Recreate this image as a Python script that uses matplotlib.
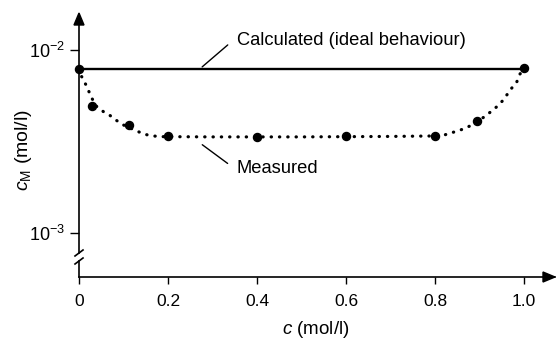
import matplotlib
matplotlib.use("Agg")
import matplotlib.pyplot as plt
from matplotlib.patches import Polygon

plt.rcParams['font.family'] = ['Liberation Sans', 'DejaVu Sans']
plt.rcParams['mathtext.fontset'] = 'custom'
plt.rcParams['mathtext.rm'] = 'Liberation Sans'
plt.rcParams['mathtext.it'] = 'Liberation Sans:italic'
plt.rcParams['mathtext.default'] = 'rm'

# Data
calc_x = [0.0, 1.0]
calc_y = [7.9e-3, 7.9e-3]

meas_x = [0.0, 0.03, 0.112, 0.2, 0.4, 0.6, 0.8, 0.895, 1.0]
meas_y = [7.9e-3, 4.97e-3, 3.87e-3, 3.37e-3, 3.35e-3, 3.37e-3, 3.39e-3, 4.07e-3, 7.95e-3]

curve_x = [0.0, 0.006, 0.015, 0.0225, 0.030, 0.040, 0.055, 0.070, 0.085, 0.100,
           0.133, 0.148, 0.163, 0.182, 0.2, 0.3, 0.4, 0.5, 0.6, 0.7, 0.8,
           0.819, 0.834, 0.849, 0.865, 0.881, 0.895, 0.912, 0.924, 0.939,
           0.952, 0.963, 0.972, 0.984, 0.991, 1.0]
curve_y = [7.9e-3, 7.15e-3, 6.49e-3, 5.91e-3, 5.39e-3, 4.90e-3, 4.60e-3, 4.38e-3, 4.11e-3, 3.89e-3,
           3.58e-3, 3.46e-3, 3.40e-3, 3.36e-3, 3.36e-3, 3.35e-3, 3.35e-3, 3.35e-3, 3.36e-3, 3.37e-3, 3.39e-3,
           3.42e-3, 3.51e-3, 3.60e-3, 3.71e-3, 3.87e-3, 4.07e-3, 4.33e-3, 4.57e-3, 4.90e-3,
           5.28e-3, 5.75e-3, 6.17e-3, 6.71e-3, 7.39e-3, 7.95e-3]

xticks = [0, 0.2, 0.4, 0.6, 0.8, 1.0]
xticklabels = ['0', '0.2', '0.4', '0.6', '0.8', '1.0']
yticks = [1e-2, 1e-3]
yticklabels = [r'$10^{-2}$', r'$10^{-3}$']

W, H = 557, 341
fig = plt.figure(figsize=(W / 100, H / 100), dpi=100)
L, R, B, T = 79, 555, 277, 13
ax = fig.add_axes([L / W, (H - B) / H, (R - L) / W, (B - T) / H])

ax.set_yscale('log')
ax.set_xlim(0, (R - L) / 445)
ax.set_ylim(10 ** (-3.2404), 10 ** (-1.798))

ax.plot(curve_x, curve_y, color='black', lw=2.3, linestyle=(0, (0.1, 2.5)),
        dash_capstyle='round', clip_on=False, zorder=2)
ax.plot(calc_x, calc_y, color='black', lw=1.7, solid_capstyle='butt', zorder=3, clip_on=False)
ax.plot(meas_x, meas_y, 'o', color='black', ms=5.8, zorder=4, clip_on=False)

# Spines
for s in ['top', 'right', 'left']:
    ax.spines[s].set_visible(False)
ax.spines['bottom'].set_linewidth(1.2)

# Manual y axis with break
kw = dict(transform=ax.transAxes, color='black', lw=1.2, clip_on=False)
yb1 = (B - 261) / (B - T)
yb2 = (B - 253) / (B - T)
ax.plot([0, 0], [0, yb1], **kw)
ax.plot([0, 0], [yb2, 0.97], **kw)
dx = 4 / (R - L)
dy = 3 / (B - T)
for yb in (yb1, yb2):
    ax.plot([-dx, dx], [yb - dy, yb + dy], **kw)

# Arrow heads
ah = 12
aw = 5
ax.add_patch(Polygon([[0, 1], [-aw / (R - L), 1 - ah / (B - T)], [aw / (R - L), 1 - ah / (B - T)]],
                     closed=True, transform=ax.transAxes, color='black', clip_on=False))
ax.add_patch(Polygon([[1, 0], [1 - ah / (R - L), aw / (B - T)], [1 - ah / (R - L), -aw / (B - T)]],
                     closed=True, transform=ax.transAxes, color='black', clip_on=False))

ax.set_xticks(xticks)
ax.set_xticklabels(xticklabels)
ax.set_yticks(yticks)
ax.set_yticklabels(yticklabels)
ax.yaxis.set_minor_locator(matplotlib.ticker.NullLocator())
ax.tick_params(axis='x', direction='out', length=5, width=1, labelsize=12.5, pad=7)
ax.tick_params(axis='y', direction='out', length=6.5, width=1, labelsize=13, pad=3.5)

fig.text(23 / W, (H - 150) / H, r'$\it{c}_{\mathrm{M}}$ (mol/l)', rotation=90,
         ha='center', va='center', fontsize=14)
fig.text(316 / W, (H - 330) / H, r'$\it{c}$ (mol/l)', ha='center', va='center', fontsize=13.5)

# Annotations
ax.annotate('', xy=(0.272, 7.9e-3), xytext=(0.339, 1.09e-2),
            arrowprops=dict(arrowstyle='-', color='black', lw=1))
ax.text(0.355, 1.064e-2, 'Calculated (ideal behaviour)', fontsize=13.2, va='baseline', ha='left')
ax.annotate('', xy=(0.272, 3.1e-3), xytext=(0.339, 2.35e-3),
            arrowprops=dict(arrowstyle='-', color='black', lw=1))
ax.text(0.355, 2.13e-3, 'Measured', fontsize=13.2, va='baseline', ha='left')

fig.savefig('out.png', dpi=100)
